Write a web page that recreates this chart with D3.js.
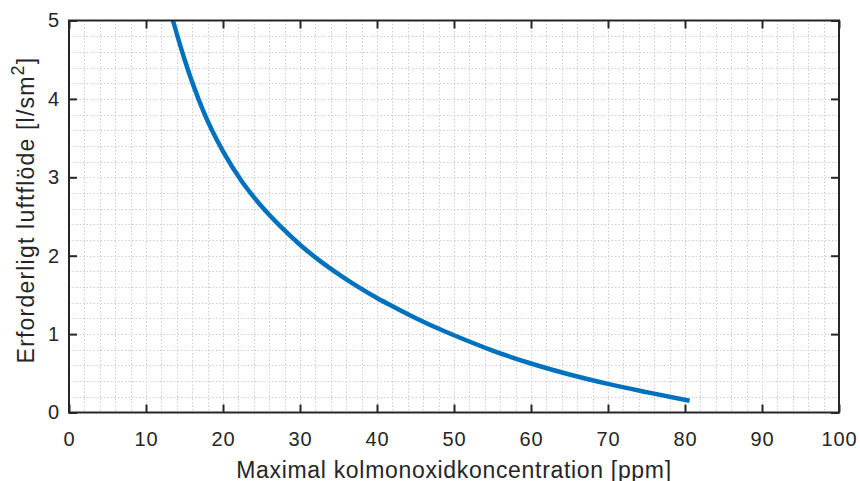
<!DOCTYPE html>
<html>
<head>
<meta charset="utf-8">
<script src="https://cdn.jsdelivr.net/npm/d3@7"></script>
<style>
  html, body { margin: 0; padding: 0; background: #fff; }
  svg { display: block; }
  text { font-family: "Liberation Sans", Arial, Helvetica, sans-serif; fill: #262626; }
</style>
</head>
<body>
<svg id="chart" width="860" height="481"></svg>
<script>
// Required air flow as a function of the maximum allowed CO concentration
const concentration = [13.5, 15, 17.5, 20, 22.5, 25, 27.5, 30, 32.5, 35, 37.5, 40, 42.5, 45, 47.5, 50, 55, 60, 65, 70, 75, 80.6];
const airflow       = [5.0, 4.505, 3.83, 3.33, 2.94, 2.63, 2.37, 2.14, 1.94, 1.765, 1.605, 1.46, 1.33, 1.205, 1.09, 0.985, 0.79, 0.625, 0.485, 0.365, 0.26, 0.15];

const xTicks = [0, 10, 20, 30, 40, 50, 60, 70, 80, 90, 100];
const yTicks = [0, 1, 2, 3, 4, 5];
const xMinor = d3.range(0, 101, 2);
const yMinor = d3.range(0, 26).map(i => i / 5);

const xLabel = "Maximal kolmonoxidkoncentration [ppm]";
const yLabel = "Erforderligt luftflöde [l/sm";

const svg = d3.select("#chart");
const plotL = 69, plotR = 839, plotT = 20.5, plotB = 412.5;

const x = d3.scaleLinear().domain([0, 100]).range([plotL, plotR]);
const y = d3.scaleLinear().domain([0, 5]).range([plotB, plotT]);

// grid (minor and major share the same dotted style)
const grid = svg.append("g").attr("stroke", "#cdcdcd").attr("stroke-width", 1)
  .attr("stroke-dasharray", "1.5,2");
grid.selectAll("line.vx").data(xMinor.filter(v => v > 0 && v < 100)).join("line")
  .attr("x1", d => Math.round(x(d)) + 0.5).attr("x2", d => Math.round(x(d)) + 0.5)
  .attr("y1", plotT).attr("y2", plotB);
grid.selectAll("line.hy").data(yMinor.filter(v => v > 0 && v < 5)).join("line")
  .attr("y1", d => Math.round(y(d)) + 0.5).attr("y2", d => Math.round(y(d)) + 0.5)
  .attr("x1", plotL).attr("x2", plotR);

// data line
const line = d3.line().x((d, i) => x(concentration[i])).y(d => y(d)).curve(d3.curveMonotoneX);
svg.append("path").datum(airflow)
  .attr("d", line)
  .attr("fill", "none")
  .attr("stroke", "#0072BD")
  .attr("stroke-width", 4.5);

// axes with inward ticks on all four sides
const tickLen = 8;
const axStyle = g => {
  g.select(".domain").remove();
  g.selectAll(".tick line").attr("stroke", "#262626").attr("stroke-width", 2);
};
const labelStyle = g => g.selectAll(".tick text")
  .attr("font-size", 20).attr("fill", "#262626").attr("font-family", null).attr("letter-spacing", 0.8);

svg.append("g").attr("transform", `translate(0,${plotB})`)
  .call(d3.axisBottom(x).tickValues(xTicks).tickFormat(d3.format("d")).tickSizeInner(-tickLen).tickSizeOuter(0).tickPadding(19))
  .call(axStyle).call(labelStyle);
svg.append("g").attr("transform", `translate(0,${plotT})`)
  .call(d3.axisTop(x).tickValues(xTicks).tickSizeInner(-tickLen).tickSizeOuter(0).tickFormat(""))
  .call(axStyle);
svg.append("g").attr("transform", `translate(${plotL},0)`)
  .call(d3.axisLeft(y).tickValues(yTicks).tickFormat(d3.format("d")).tickSizeInner(-tickLen).tickSizeOuter(0).tickPadding(9))
  .call(axStyle).call(labelStyle);
svg.append("g").attr("transform", `translate(${plotR},0)`)
  .call(d3.axisRight(y).tickValues(yTicks).tickSizeInner(-tickLen).tickSizeOuter(0).tickFormat(""))
  .call(axStyle);

// box
svg.append("rect").attr("x", plotL).attr("y", plotT)
  .attr("width", plotR - plotL).attr("height", plotB - plotT)
  .attr("fill", "none").attr("stroke", "#262626").attr("stroke-width", 2);

// axis titles
svg.append("text").attr("x", (plotL + plotR) / 2).attr("y", 477.5)
  .attr("text-anchor", "middle").attr("font-size", 23).attr("letter-spacing", 0.68).text(xLabel);

const yl = svg.append("text")
  .attr("transform", `translate(34,210) rotate(-90)`)
  .attr("text-anchor", "middle").attr("font-size", 23).attr("letter-spacing", 1.2);
yl.append("tspan").text(yLabel);
yl.append("tspan").attr("dy", -10).attr("font-size", 18).text("2");
yl.append("tspan").attr("dy", 10).text("]");
</script>
</body>
</html>
